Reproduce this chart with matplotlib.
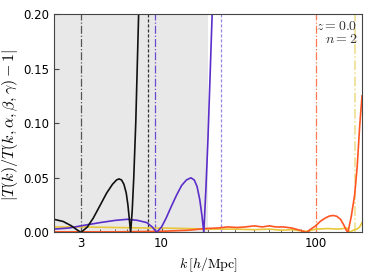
import numpy as np
import matplotlib
matplotlib.use("Agg")
import matplotlib.pyplot as plt
from matplotlib.ticker import FixedLocator, FixedFormatter, NullFormatter

plt.rcParams['mathtext.fontset'] = 'cm'

# curves: (k, |T/T_fit - 1|)
k_black = [2.0, 2.3, 2.6, 2.85, 3.0, 3.3, 3.6, 4.0, 4.4, 4.8, 5.1, 5.3, 5.5, 5.7, 5.9, 6.05, 6.2, 6.3, 6.45, 6.6, 6.8, 7.1, 7.3]
y_black = [0.012, 0.010, 0.006, 0.002, 0.0, 0.005, 0.013, 0.025, 0.036, 0.044, 0.048, 0.049, 0.048, 0.044, 0.036, 0.025, 0.01, 0.0, 0.02, 0.05, 0.10, 0.20, 0.25]

k_purple = [2.0, 2.5, 3.0, 4.0, 5.0, 6.0, 7.0, 8.0, 8.7, 9.3, 10.0, 10.7, 11.5, 12.5, 13.5, 14.5, 15.5, 16.3, 17.0, 17.7, 18.3, 18.8, 19.4, 20.0, 21.3, 22.0]
y_purple = [0.003, 0.004, 0.006, 0.009, 0.011, 0.012, 0.011, 0.009, 0.005, 0.0, 0.005, 0.013, 0.023, 0.034, 0.043, 0.048, 0.050, 0.048, 0.042, 0.030, 0.015, 0.0, 0.04, 0.085, 0.20, 0.27]

k_red = [2.0, 5.0, 10.0, 15.0, 19.0, 23.0, 27.0, 31.0, 35.0, 40.0, 45.0, 50.0, 55.0, 62.0, 70.0, 79.0, 87.0, 93.0, 100.0, 107.0, 115.0, 123.0, 130.0, 137.0, 145.0, 152.0, 158.0, 162.0, 170.0, 179.0, 186.0, 193.0, 200.0]
y_red = [0.0005, 0.0005, 0.001, 0.002, 0.0035, 0.004, 0.005, 0.0045, 0.005, 0.006, 0.005, 0.006, 0.005, 0.005, 0.004, 0.002, 0.0, 0.003, 0.006, 0.010, 0.013, 0.015, 0.0155, 0.0148, 0.012, 0.007, 0.002, 0.0, 0.014, 0.034, 0.060, 0.097, 0.125]

k_yellow = [2.0, 3.0, 5.0, 8.0, 10.0, 15.0, 20.0, 30.0, 40.0, 50.0, 60.0, 70.0, 80.0, 88.0, 100.0, 120.0, 140.0, 160.0, 167.0, 175.0, 185.0, 193.0, 200.0]
y_yellow = [0.005, 0.005, 0.0045, 0.004, 0.004, 0.0035, 0.003, 0.003, 0.0025, 0.003, 0.002, 0.0025, 0.0015, 0.001, 0.003, 0.0035, 0.003, 0.004, 0.0, 0.002, 0.003, 0.005, 0.009]

# vertical markers
k_dashdot = [3.0, 9.0, 100.0, 181.0]
k_dashed = [8.2, 24.4]

c_black = '#111111'
c_purple = '#5b2ec9'
c_red = '#ff5522'
c_yellow = '#e8c83a'

fig = plt.figure(figsize=(3.74, 2.80), dpi=100)
ax = fig.add_axes([0.144, 0.170, 0.824, 0.780])

ax.axvspan(2, 20, color='#e8e8e8', zorder=0, lw=0)

ax.axvline(k_dashdot[0], color='#555555', ls='-.', lw=0.9)
ax.axvline(k_dashed[0], color='#333333', ls='--', lw=0.9, dashes=(2.5, 1.5))
ax.axvline(k_dashdot[1], color='#6a4ad0', ls='-.', lw=0.9)
ax.axvline(k_dashed[1], color='#9a85e0', ls='--', lw=0.9, dashes=(2.5, 1.5))
ax.axvline(k_dashdot[2], color='#ff7a50', ls='-.', lw=0.9)
ax.axvline(k_dashdot[3], color='#eedc88', ls='-.', lw=1.1)

ax.plot(k_yellow, y_yellow, color=c_yellow, lw=1.2)
ax.plot(k_red, y_red, color=c_red, lw=1.2)
ax.plot(k_purple, y_purple, color=c_purple, lw=1.2)
ax.plot(k_black, y_black, color=c_black, lw=1.2)

ax.set_xscale('log')
ax.set_xlim(2, 200)
ax.set_ylim(0, 0.2)
ax.xaxis.set_major_locator(FixedLocator([3, 10, 100]))
ax.xaxis.set_major_formatter(FixedFormatter(['3', '10', '100']))
ax.xaxis.set_minor_formatter(NullFormatter())
ax.set_yticks([0.0, 0.05, 0.10, 0.15, 0.20])
ax.set_yticklabels(['0.00', '0.05', '0.10', '0.15', '0.20'])
ax.tick_params(which='both', direction='in', labelsize=8.5, color='#444444')
ax.tick_params(which='major', length=3.5)
ax.tick_params(which='minor', length=2)
for s in ax.spines.values():
    s.set_color('#444444')

ax.set_xlabel(r'$k\,[h/\mathrm{Mpc}]$', fontsize=10)
ax.set_ylabel(r'$|T(k)/T(k,\alpha,\beta,\gamma)-1|$', fontsize=11.5)
ax.yaxis.set_label_coords(-0.11, 0.49)

ax.text(0.984, 0.946, r'$z=0.0$', transform=ax.transAxes, ha='right', va='center', fontsize=10, color='#333333')
ax.text(0.984, 0.884, r'$n=2$', transform=ax.transAxes, ha='right', va='center', fontsize=10, color='#333333')

fig.savefig('out.png', dpi=100)
